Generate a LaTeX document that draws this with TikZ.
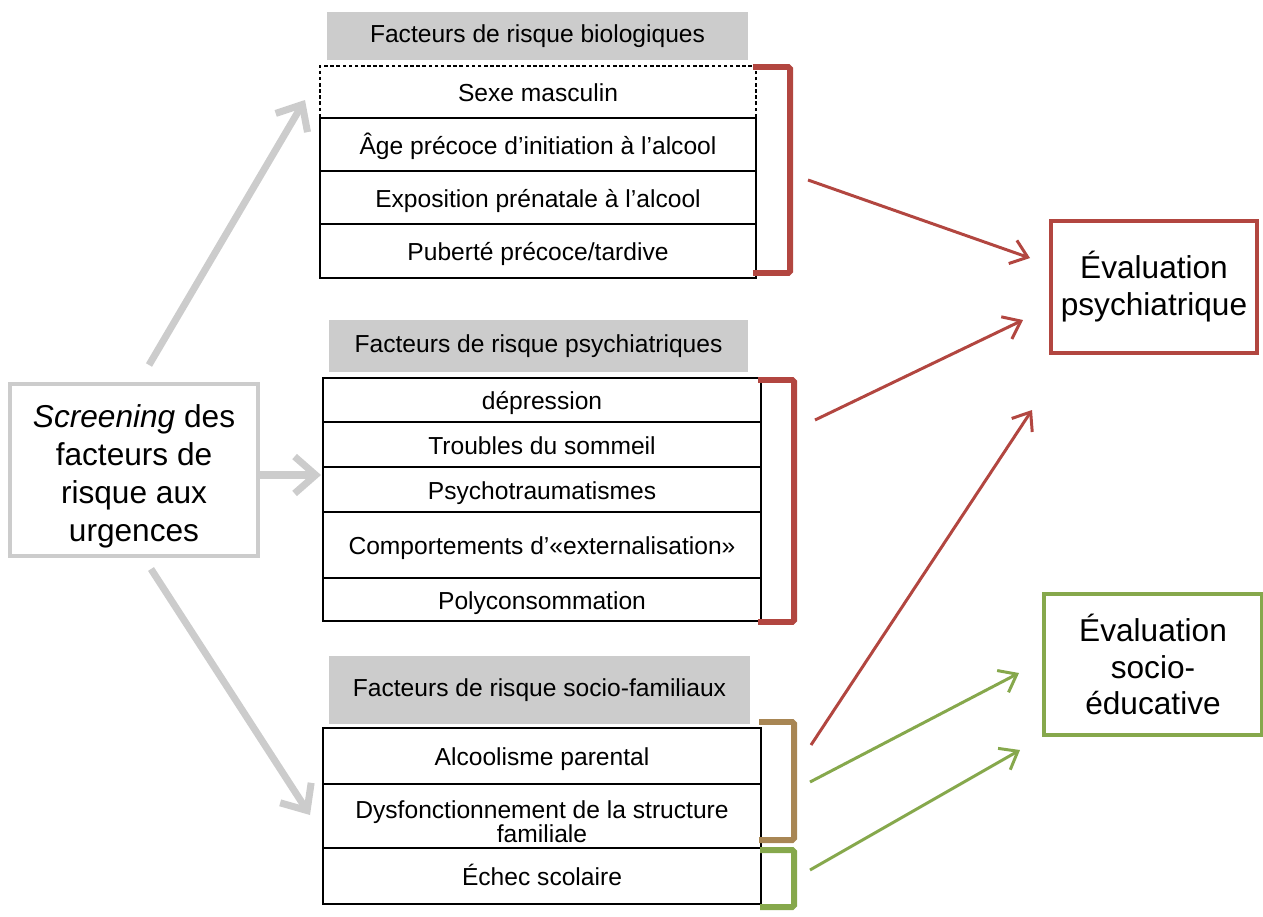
\documentclass[tikz,border=0pt]{standalone}
\usepackage{fontspec}
\setmainfont{Liberation Sans}
\usetikzlibrary{arrows.meta}

\definecolor{evalred}{RGB}{178,70,64}
\definecolor{evalgreen}{RGB}{134,168,76}
\definecolor{famgold}{RGB}{168,134,84}
\definecolor{screengray}{RGB}{204,204,204}

\tikzset{
  row/.style={draw, line width=0.8pt, inner sep=0pt, outer sep=0pt, align=center,
    text height=1.2em, text depth=0.1em, font=\fontsize{14}{15}\selectfont},
  head/.style={fill=gray!40, inner sep=0pt, font=\fontsize{14}{15}\selectfont},
  bigbox/.style={draw, line width=2.3pt, align=center, inner sep=0pt,
    font=\fontsize{18}{21}\selectfont},
  bracket/.style={line width=3.4pt, rounded corners=1pt},
  grayarrow/.style={screengray, line width=4pt, -{Straight Barb[length=12pt,width=21pt]}},
  redarrow/.style={evalred, line width=1.7pt, -{Straight Barb[length=9pt,width=14pt]}},
  greenarrow/.style={evalgreen, line width=1.7pt, -{Straight Barb[length=9pt,width=14pt]}},
}

\begin{document}
\begin{tikzpicture}[x=0.02cm, y=-0.02cm]
  \useasboundingbox (0,0) rectangle (1263,916);

  % Screening
  \node[bigbox, draw=screengray, line width=2.8pt, minimum width=4.96cm, minimum height=3.44cm,
    font=\fontsize{18}{21.6}\selectfont] (screen) at (134,470)
    {\rule{0pt}{1.15em}\textit{Screening} des\\facteurs de\\risque aux\\urgences};

  % Biological factors
  \node[head, minimum width=8.42cm, minimum height=0.96cm] (biohead) at (537.5,36) {Facteurs de risque biologiques};
  \node[row, dash pattern=on 2pt off 1.5pt, minimum width=8.72cm, minimum height=1.04cm] (sexe) at (538,92) {Sexe masculin};
  \node[row, minimum width=8.72cm, minimum height=1.06cm] (age) at (538,144.5) {Âge précoce d’initiation à l’alcool};
  \node[row, minimum width=8.72cm, minimum height=1.06cm] (expo) at (538,197.5) {Exposition prénatale à l’alcool};
  \node[row, minimum width=8.72cm, minimum height=1.08cm] (puberte) at (538,251) {Puberté précoce/tardive};

  % Psychiatric factors
  \node[head, minimum width=8.38cm, minimum height=1.04cm] (psyhead) at (538.5,346) {Facteurs de risque psychiatriques};
  \node[row, minimum width=8.76cm, minimum height=0.88cm] (depression) at (542,400) {dépression};
  \node[row, minimum width=8.76cm, minimum height=0.9cm] (sommeil) at (542,444.5) {Troubles du sommeil};
  \node[row, minimum width=8.76cm, minimum height=0.9cm] (trauma) at (542,489.5) {Psychotraumatismes};
  \node[row, minimum width=8.76cm, minimum height=1.32cm] (comport) at (542,545) {Comportements d’«externalisation»};
  \node[row, minimum width=8.76cm, minimum height=0.86cm] (polyconso) at (542,599.5) {Polyconsommation};

  % Socio-familial factors
  \node[head, minimum width=8.42cm, minimum height=1.36cm] (famhead) at (539.5,690) {Facteurs de risque socio-familiaux};
  \node[row, minimum width=8.76cm, minimum height=1.12cm] (alcpar) at (542,756) {Alcoolisme parental};
  \node[row, text height=, text depth=, minimum width=8.76cm, minimum height=1.28cm,
    font=\fontsize{14}{12.5}\selectfont] (dysf) at (542,816)
    {\rule{0pt}{1.2em}Dysfonctionnement de la structure\\familiale};
  \node[row, minimum width=8.76cm, minimum height=1.12cm] (echec) at (542,876) {Échec scolaire};

  % Evaluations
  \node[bigbox, draw=evalred, minimum width=4.12cm, minimum height=2.64cm] (evalpsy) at (1154,287)
    {Évaluation\\psychiatrique};
  \node[bigbox, draw=evalgreen, minimum width=4.36cm, minimum height=2.82cm,
    font=\fontsize{18}{21}\selectfont] (evalsocio) at (1153,664.5)
    {Évaluation\\socio-\\éducative};

  % Brackets
  \draw[bracket, evalred] (753,67) -- (790,67) -- (790,273) -- (753,273);
  \draw[bracket, evalred] (758,380) -- (794,380) -- (794,622) -- (758,622);
  \draw[bracket, famgold] (759,722) -- (794,722) -- (794,840) -- (759,840);
  \draw[bracket, evalgreen] (760,850) -- (794,850) -- (794,907) -- (760,907);

  % Arrow ends
  \coordinate (screentop) at (149,365);
  \coordinate (screenright) at (260,475);
  \coordinate (screenbottom) at (151,569);
  \coordinate (tobio) at (305,100);
  \coordinate (topsy) at (321,475);
  \coordinate (tofam) at (310,815);
  \coordinate (biofrom) at (808,180);
  \coordinate (psyfrom) at (815,420);
  \coordinate (famfrom) at (811,745);
  \coordinate (parfrom) at (810,782);
  \coordinate (echecfrom) at (810,870);
  \coordinate (psyin1) at (1030,258);
  \coordinate (psyin2) at (1023,320);
  \coordinate (psyin3) at (1032,410);
  \coordinate (socioin1) at (1019,673);
  \coordinate (socioin2) at (1020,750);

  % Screening arrows
  \draw[grayarrow] (screentop) -- (tobio);
  \draw[grayarrow] (screenright) -- (topsy);
  \draw[grayarrow] (screenbottom) -- (tofam);

  % Evaluation arrows
  \draw[redarrow] (biofrom) -- (psyin1);
  \draw[redarrow] (psyfrom) -- (psyin2);
  \draw[redarrow] (famfrom) -- (psyin3);
  \draw[greenarrow] (parfrom) -- (socioin1);
  \draw[greenarrow] (echecfrom) -- (socioin2);

\end{tikzpicture}
\end{document}
